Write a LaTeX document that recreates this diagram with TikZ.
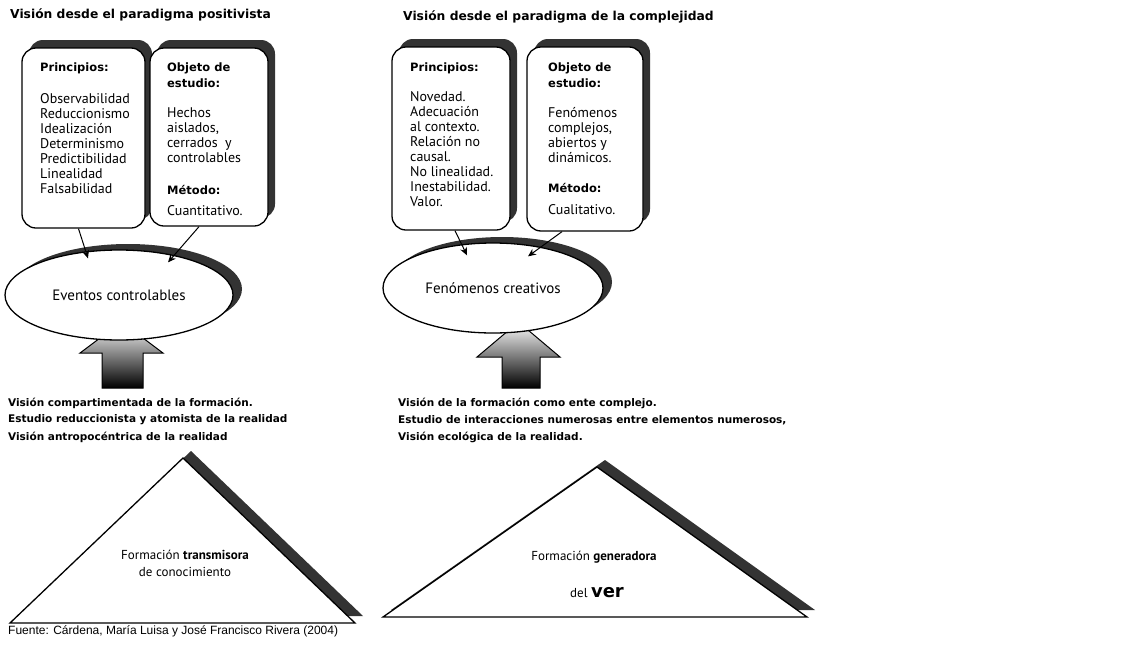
\documentclass[tikz,border=0pt]{standalone}
\usepackage{fontspec}
\setmainfont{PT Sans}
\newfontfamily\heavyfont{DejaVu Sans}
\newfontfamily\srcfont{Liberation Sans}
\usetikzlibrary{shadows,arrows.meta,shapes.geometric}
\newcommand{\hd}[1]{{\heavyfont\bfseries\fontsize{11.5}{15}\selectfont #1}}
\begin{document}
\begin{tikzpicture}[x=1pt,y=-1pt,
  box/.style={draw=black, line width=1.3pt, rounded corners=14pt, fill=white,
    inner sep=0pt,
    drop shadow={shadow xshift=7pt,shadow yshift=8pt,fill=black!80,opacity=1}},
  oval/.style={ellipse, draw=black, line width=1.3pt, fill=white, inner sep=0pt,
    font=\fontsize{15}{16}\selectfont,
    drop shadow={shadow xshift=9pt,shadow yshift=6pt,fill=black!80,opacity=1}},
  tri/.style={draw=black, line width=1.3pt, fill=white,
    drop shadow={shadow xshift=8pt,shadow yshift=7pt,fill=black!80,opacity=1}},
  blockarrow/.style={draw=black, line width=1pt, top color=white, bottom color=black},
  boxtext/.style={anchor=north west, align=left, inner sep=0pt,
    font=\fontsize{14}{15}\selectfont},
  title/.style={anchor=west, inner sep=0pt, font=\heavyfont\bfseries\fontsize{12.3}{14}\selectfont},
  note/.style={anchor=west, inner sep=0pt, font=\heavyfont\bfseries\fontsize{10.5}{12}\selectfont},
  tritext/.style={align=center, inner sep=0pt, font=\fontsize{13}{17}\selectfont},
  link/.style={line width=1pt, -{Stealth[length=8pt,width=7pt]}}
]
\useasboundingbox (0,0) rectangle (1131,648);
\fill[white] (0,0) rectangle (1131,648);

% titles
\node[title] (h1) at (10,15) {Visión desde el paradigma positivista};
\node[title] (h2) at (403,17) {Visión desde el paradigma de la complejidad};

% boxes
\node[box, minimum width=123pt, minimum height=180pt] (b1) at (83.5,138) {};
\node[box, minimum width=118pt, minimum height=178pt] (b2) at (209,137) {};
\node[box, minimum width=118pt, minimum height=183pt] (b3) at (451,138.5) {};
\node[box, minimum width=116pt, minimum height=184pt] (b4) at (585,139) {};

\node[boxtext] (b1t) at (40,63) {\hd{Principios:}\\[17pt]
Observabilidad\\Reduccionismo\\Idealización\\Determinismo\\Predictibilidad\\Linealidad\\Falsabilidad};
\node[boxtext] (b2t) at (167,63) {\hd{Objeto de}\\[1pt]\hd{estudio:}\\[15pt]
Hechos\\aislados,\\cerrados\ \ y\\controlables\\[17pt]\hd{Método:}\\[6pt]Cuantitativo.};
\node[boxtext] (b3t) at (410,63) {\hd{Principios:}\\[15pt]
Novedad.\\Adecuación\\al contexto.\\Relación no\\causal.\\No linealidad.\\Inestabilidad.\\Valor.};
\node[boxtext] (b4t) at (548,63) {\hd{Objeto de}\\[1pt]\hd{estudio:}\\[15pt]
Fenómenos\\complejos,\\abiertos y\\dinámicos.\\[15pt]\hd{Método:}\\[7pt]Cualitativo.};

% block arrows (drawn before the ovals, which hide their tips)
\path[blockarrow] (102,388) -- (102,353) -- (80,353) -- (121.5,322) -- (163,353) -- (143,353) -- (143,388) -- cycle;
\path[blockarrow] (502,388) -- (502,357) -- (477,357) -- (518.5,322) -- (560,357) -- (540,357) -- (540,388) -- cycle;

% ovals
\node[oval, minimum width=228pt, minimum height=90pt] (e1) at (119,295) {Eventos controlables};
\node[oval, minimum width=220pt, minimum height=90pt] (e2) at (493,288) {Fenómenos creativos};

% connectors
\draw[link] ([xshift=-5pt]b1.south) -- ([xshift=-31pt,yshift=-9pt]e1.north);
\draw[link] ([xshift=-10pt]b2.south) -- ([xshift=49pt,yshift=-13pt]e1.north);
\draw[link] ([xshift=4pt]b3.south) -- ([xshift=-26pt,yshift=-13pt]e2.north);
\draw[link] ([xshift=-23pt]b4.south) -- ([xshift=35pt,yshift=-14pt]e2.north);

% notes
\node[note] (n1) at (8,403) {Visión compartimentada de la formación.};
\node[note] (n2) at (8,420) {Estudio reduccionista y atomista de la realidad};
\node[note] (n3) at (8,437) {Visión antropocéntrica de la realidad};
\node[note] (n4) at (398,403) {Visión de la formación como ente complejo.};
\node[note] (n5) at (398,420) {Estudio de interacciones numerosas entre elementos numerosos,};
\node[note] (n6) at (398,437) {Visión ecológica de la realidad.};

% triangles
\draw[tri] (183,458) -- (355,623) -- (10,623) -- cycle;
\draw[tri] (597,467) -- (807,617) -- (383,617) -- cycle;
\node[tritext] (t1) at (185,563) {Formación \textbf{transmisora}\\de conocimiento};
\node[tritext] (t2) at (594,557) {Formación \textbf{generadora}};
\node[tritext, anchor=base] (t3) at (597,597) {del {\heavyfont\bfseries\fontsize{18}{18}\selectfont ver}};

% source
\node[anchor=west, inner sep=0pt, font=\srcfont\fontsize{12}{14}\selectfont] (src) at (8,631)
  {Fuente: Cárdena, María Luisa y José Francisco Rivera (2004)};
\end{tikzpicture}
\end{document}
